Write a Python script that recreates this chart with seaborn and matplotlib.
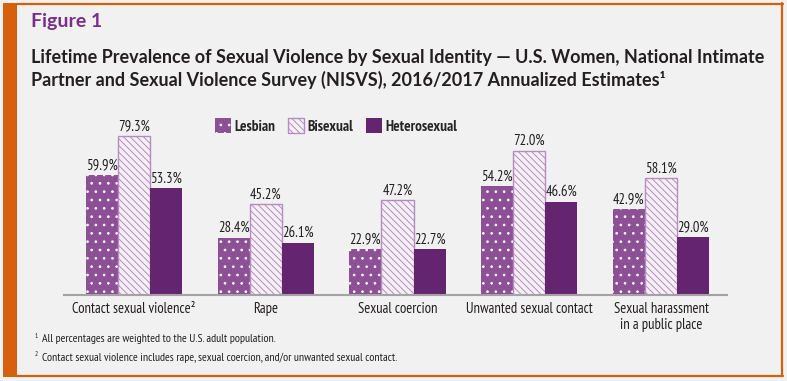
import matplotlib
matplotlib.use("Agg")
import matplotlib.pyplot as plt
import matplotlib.patches as mpatches
from matplotlib import font_manager as fm
import pandas as pd
import seaborn as sns

# dados
categorias = ["Contact sexual violence²", "Rape", "Sexual coercion",
              "Unwanted sexual contact", "Sexual harassment\nin a public place"]
grupos = ["Lesbian", "Bisexual", "Heterosexual"]
lesbian = [59.9, 28.4, 22.9, 54.2, 42.9]
bisexual = [79.3, 45.2, 47.2, 72.0, 58.1]
heterosexual = [53.3, 26.1, 22.7, 46.6, 29.0]

df = pd.DataFrame({
    "categoria": categorias * 3,
    "grupo": [g for g in grupos for _ in categorias],
    "valor": lesbian + bisexual + heterosexual,
})

# escolhe a primeira fonte instalada (com negrito) da lista
negrito = {f.name for f in fm.fontManager.ttflist if f.weight in (700, "bold")}

def escolhe(opcoes):
    for nome in opcoes:
        if nome in negrito:
            return nome
    return "DejaVu Sans"

fonte_cond = escolhe(["PT Sans Narrow", "Roboto Condensed", "Archivo Narrow",
                      "Asap Condensed", "Liberation Sans Narrow"])
fonte_tit = escolhe(["Lato", "Open Sans"])

sns.set_theme(style="white")
plt.rcParams["font.family"] = [fonte_cond, "DejaVu Sans"]
plt.rcParams["hatch.linewidth"] = 0.7

bg = "#f1f1f1"
laranja = "#d7600c"
texto = "#231f20"
cor_les = "#8d4f96"
cor_bi_fundo = "#f6f0f7"
cor_bi = "#b68bc2"
cor_het = "#65246f"

W, H = 787, 381
fig = plt.figure(figsize=(W / 100, H / 100), dpi=100, facecolor=bg)

def fx(px):
    return px / W

def fy(py):
    return 1 - py / H

# moldura laranja
fig.patches.append(mpatches.Rectangle((fx(3), fy(377)), fx(14), 374 / H,
                                      transform=fig.transFigure, color=laranja, lw=0))
fig.add_artist(plt.Line2D([fx(17), fx(783)], [fy(3.5), fy(3.5)], color=laranja, lw=1.6))
fig.add_artist(plt.Line2D([fx(782), fx(782)], [fy(3), fy(376)], color=laranja, lw=1.6))
fig.add_artist(plt.Line2D([fx(17), fx(783)], [fy(376), fy(376)], color=laranja, lw=1.6))

ax = fig.add_axes([fx(64), fy(295), fx(727) - fx(64), fy(114.5) - fy(295)])
ax.set_facecolor(bg)

sns.barplot(data=df, x="categoria", y="valor", hue="grupo", hue_order=grupos,
            palette=[cor_les, cor_bi_fundo, cor_het], width=0.73, gap=0,
            legend=False, ax=ax, saturation=1)

estilos = [
    dict(hatch="..", edge="white", lw=0),
    dict(hatch="\\" * 5, edge=cor_bi, lw=1.0),
    dict(hatch=None, edge=cor_het, lw=0),
]
for cont, st in zip(ax.containers, estilos):
    for barra in cont:
        barra.set_hatch(st["hatch"])
        barra.set_edgecolor(st["edge"])
        barra.set_linewidth(st["lw"])
    ax.bar_label(cont, fmt=lambda v: f"{v:.1f}%", padding=2,
                 fontsize=10.5, color=texto)

ax.set_ylim(0, 90)
ax.set_xlim(-0.53, 4.5)
ax.set_xlabel("")
ax.set_ylabel("")
ax.set_yticks([])
for lado in ["top", "right", "left"]:
    ax.spines[lado].set_visible(False)
ax.spines["bottom"].set_color("#a3a3a3")
ax.spines["bottom"].set_linewidth(1.5)
ax.tick_params(axis="x", length=0, pad=5, labelsize=10.5, labelcolor=texto)

# legenda
handles = [
    mpatches.Patch(facecolor=cor_les, edgecolor="white", hatch="..", lw=0),
    mpatches.Patch(facecolor=cor_bi_fundo, edgecolor=cor_bi, hatch="\\" * 5, lw=1.0),
    mpatches.Patch(facecolor=cor_het, edgecolor=cor_het, lw=0),
]
fig.legend(handles, grupos, loc="center", bbox_to_anchor=(fx(336), fy(126)),
           ncol=3, frameon=False, handlelength=1.1, handleheight=1.1,
           handletextpad=0.2, columnspacing=0.8,
           prop={"family": fonte_cond, "weight": "bold", "size": 11})

# títulos
fig.text(fx(31), fy(22), "Figure 1", color="#7b2d8c", fontsize=14,
         fontweight="bold", family=[fonte_tit, "DejaVu Sans"], va="center")
fig.text(fx(31), fy(57),
         "Lifetime Prevalence of Sexual Violence by Sexual Identity \u2014 U.S. Women, National Intimate",
         color=texto, fontsize=13, fontweight="bold", family=[fonte_tit, "DejaVu Sans"], va="center")
fig.text(fx(31), fy(80),
         "Partner and Sexual Violence Survey (NISVS), 2016/2017 Annualized Estimates\u00b9",
         color=texto, fontsize=13, fontweight="bold", family=[fonte_tit, "DejaVu Sans"], va="center")

# notas
fig.text(fx(35), fy(336), "1", fontsize=5, color=texto, va="center")
fig.text(fx(42), fy(339), "All percentages are weighted to the U.S. adult population.",
         fontsize=8.5, color=texto, va="center")
fig.text(fx(35), fy(355), "2", fontsize=5, color=texto, va="center")
fig.text(fx(42), fy(358),
         "Contact sexual violence includes rape, sexual coercion, and/or unwanted sexual contact.",
         fontsize=8.5, color=texto, va="center")

fig.savefig("out.png", dpi=100, facecolor=bg)
